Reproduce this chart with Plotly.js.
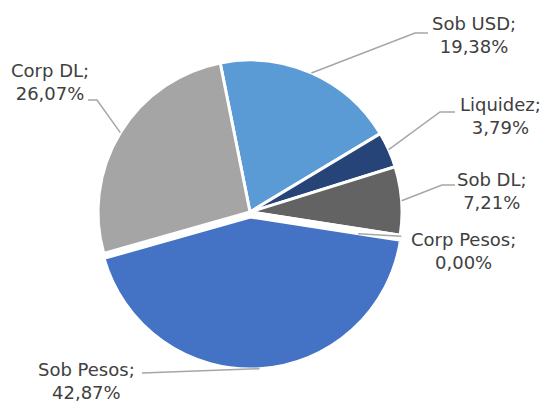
<!DOCTYPE html>
<html>
<head>
<meta charset="utf-8">
<script src="https://cdn.plot.ly/plotly-3.0.1.min.js"></script>
<style>html,body{margin:0;padding:0;background:#fff;}#chart{width:546px;height:401px;}</style>
</head>
<body>
<div id="chart"></div>
<script>
// ---- data ----
var categories = ["Sob USD", "Liquidez", "Sob DL", "Corp Pesos", "Sob Pesos", "Corp DL"];
var values = [19.38, 3.79, 7.21, 0.00, 42.87, 26.07];
var valueLabels = ["19,38%", "3,79%", "7,21%", "0,00%", "42,87%", "26,07%"];
var colors = ["#5B9BD5", "#264478", "#636363", "#FFC000", "#4472C4", "#A5A5A5"];
var pulls = [0, 0, 0, 0, 0.033, 0];

// ---- layout constants ----
var W = 546, H = 401;
var CX = 250, CY = 212, R = 152;   // pie centre / radius in px
var ROT = -11.3;                    // start angle (deg, clockwise from 12 o'clock)
var maxPull = Math.max.apply(null, pulls);
var RD = R * (1 + maxPull);         // domain half-size before pull shrink

// label centres and leader-line elbows (px)
var labelPos = [[474, 35], [500, 116], [492, 191], [463, 251], [86, 381], [50, 82]];
var leaderPts = [
  [[415, 33], [428, 33]],
  [[440, 112], [455, 112]],
  [[442, 185], [455, 185]],
  null,
  [[142, 373]],
  [[97, 100], [88, 100]]
];

function px2x(px) { return px / W; }
function py2y(py) { return 1 - py / H; }

var total = values.reduce(function (a, b) { return a + b; }, 0);
var cum = 0;
var shapes = [], annotations = [];
for (var i = 0; i < values.length; i++) {
  var mid = ROT + (cum + values[i] / 2) / total * 360;
  cum += values[i];
  var a = mid * Math.PI / 180;
  var off = pulls[i] * R;
  var ax = CX + (R + off) * Math.sin(a);
  var ay = CY - (R + off) * Math.cos(a);
  var pts;
  if (leaderPts[i]) {
    pts = [[ax, ay]].concat(leaderPts[i]);
  } else {
    // zero slice: line runs along the slice position from the rim inward
    pts = [[ax + 1, ay + 1], [CX + R * 0.72 * Math.sin(a), CY - R * 0.72 * Math.cos(a) + 5]];
  }
  var path = pts.map(function (p, k) {
    return (k === 0 ? "M" : "L") + px2x(p[0]).toFixed(5) + "," + py2y(p[1]).toFixed(5);
  }).join(" ");
  shapes.push({type: "path", xref: "paper", yref: "paper", path: path,
               line: {color: "#A6A6A6", width: 1.5}, layer: "above"});
  annotations.push({
    xref: "paper", yref: "paper",
    x: px2x(labelPos[i][0]), y: py2y(labelPos[i][1]),
    xanchor: "center", yanchor: "middle", align: "center",
    showarrow: false,
    text: categories[i] + ";<br>" + valueLabels[i],
    font: {family: "DejaVu Sans", size: 18, color: "#404040"}
  });
}

var trace = {
  type: "pie",
  labels: categories,
  values: values,
  marker: {colors: colors, line: {color: "#FFFFFF", width: 3}},
  pull: pulls,
  sort: false,
  direction: "clockwise",
  rotation: ROT,
  textinfo: "none",
  hoverinfo: "label+percent",
  showlegend: false,
  domain: {x: [px2x(CX - RD), px2x(CX + RD)], y: [py2y(CY + RD), py2y(CY - RD)]}
};

var layout = {
  width: W, height: H,
  margin: {l: 0, r: 0, t: 0, b: 0},
  paper_bgcolor: "#FFFFFF",
  showlegend: false,
  shapes: shapes,
  annotations: annotations
};

Plotly.newPlot("chart", [trace], layout, {displayModeBar: false, staticPlot: true});
</script>
</body>
</html>
